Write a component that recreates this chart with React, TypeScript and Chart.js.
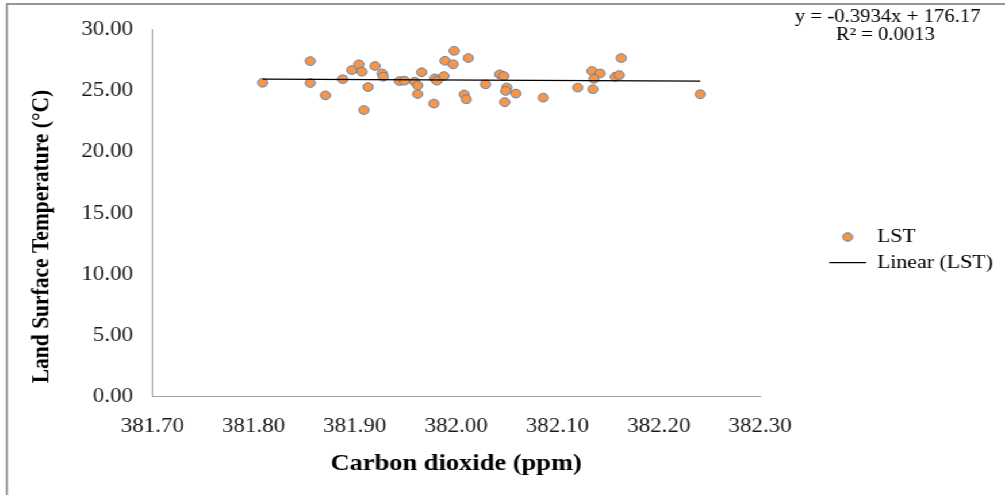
import React, { useEffect, useRef } from 'react';
import { Chart, registerables } from 'chart.js';

Chart.register(...registerables);

// ---- data ----
const co2Values = [
  381.809, 381.856, 381.856, 381.871, 381.888, 381.897, 381.904, 381.907, 381.913, 381.909,
  381.920, 381.927, 381.928, 381.944, 381.949, 381.959, 381.962, 381.962, 381.966, 381.978,
  381.979, 381.981, 381.988, 381.989, 381.998, 381.997, 382.012, 382.008, 382.010, 382.029,
  382.043, 382.047, 382.050, 382.049, 382.048, 382.059, 382.086, 382.120, 382.134, 382.142,
  382.136, 382.135, 382.157, 382.161, 382.163, 382.241,
];
const lstValues = [
  25.67, 27.44, 25.65, 24.64, 25.96, 26.71, 27.18, 26.57, 25.32, 23.44,
  27.04, 26.43, 26.16, 25.81, 25.84, 25.76, 25.45, 24.75, 26.53, 23.97,
  26.03, 25.84, 26.22, 27.47, 28.28, 27.18, 27.69, 24.71, 24.32, 25.54,
  26.36, 26.22, 25.28, 25.00, 24.08, 24.79, 24.45, 25.27, 26.63, 26.43,
  25.99, 25.14, 26.16, 26.30, 27.69, 24.73,
];
const xTickValues = [381.7, 381.8, 381.9, 382.0, 382.1, 382.2, 382.3];
const yTickValues = [0, 5, 10, 15, 20, 25, 30];
const trendSlope = -0.3934;
const trendIntercept = 176.17;
const rSquared = 0.0013;
const seriesName = 'LST';
const trendName = 'Linear (LST)';
const xTitle = 'Carbon dioxide (ppm)';
const yTitle = 'Land Surface Temperature (°C)';

// ---- layout / style ----
const STRETCH = 1.15;
const CANVAS_W = Math.round(1005 / STRETCH);
const CANVAS_H = 495;
const AREA = { left: 132.4, top: 29.8, right: 661, bottom: 396.7 };
const SERIF = "'Liberation Serif', 'Times New Roman', Times, serif";
const ORANGE = '#F79646';
const BLUE = 'rgba(74,126,187,0.85)';
const LEGEND_LEFT = 714.5;
const LEGEND_TOP = 220.8;

const decorPlugin = {
  id: 'decor',
  beforeDraw(chart: any) {
    const { ctx, width, height } = chart;
    ctx.save();
    ctx.fillStyle = '#ffffff';
    ctx.fillRect(0, 0, width, height);
    ctx.strokeStyle = '#8c8c8c';
    ctx.lineWidth = 1.8;
    ctx.strokeRect(6, 4, width + 20, height + 20);
    ctx.restore();
  },
  afterLayout(chart: any) {
    const lg = chart.legend;
    if (!lg) return;
    const w = lg.right - lg.left;
    const h = lg.bottom - lg.top;
    lg.left = LEGEND_LEFT;
    lg.right = LEGEND_LEFT + w;
    lg.top = LEGEND_TOP;
    lg.bottom = LEGEND_TOP + h;
  },
  afterDraw(chart: any) {
    const ctx = chart.ctx;
    ctx.save();
    ctx.fillStyle = '#000';
    ctx.textAlign = 'center';
    ctx.textBaseline = 'middle';
    ctx.font = `18px ${SERIF}`;
    ctx.fillText(`y = ${trendSlope.toFixed(4)}x + ${trendIntercept.toFixed(2)}`, 772, 17);
    ctx.fillText(`R² = ${rSquared.toFixed(4)}`, 770, 35.5);
    ctx.translate(36.5, 236.5);
    ctx.rotate(-Math.PI / 2);
    ctx.font = `bold 21.5px ${SERIF}`;
    ctx.fillText(yTitle, 0, 0);
    ctx.restore();
  },
};

export default function App() {
  const ref = useRef<HTMLCanvasElement>(null);

  useEffect(() => {
    const canvas = ref.current;
    if (!canvas) return;

    const marker = document.createElement('canvas');
    marker.width = 12;
    marker.height = 12;
    const mctx = marker.getContext('2d')!;
    mctx.beginPath();
    mctx.arc(6, 6, 4.3, 0, Math.PI * 2);
    mctx.fillStyle = ORANGE;
    mctx.fill();
    mctx.lineWidth = 1;
    mctx.strokeStyle = BLUE;
    mctx.stroke();

    const xMin = Math.min(...co2Values);
    const xMax = Math.max(...co2Values);
    const trendData = [xMin, xMax].map((x) => ({ x, y: trendSlope * x + trendIntercept }));
    const points = co2Values.map((x, i) => ({ x, y: lstValues[i] }));

    const tickColor = '#1a1a1a';
    const options: any = {
      responsive: false,
      animation: false,
      devicePixelRatio: 1,
      layout: { padding: { left: 0, top: AREA.top, right: 40, bottom: 0 } },
      plugins: {
        tooltip: { enabled: false },
        legend: {
          display: true,
          position: 'right',
          align: 'start',
          labels: {
            usePointStyle: true,
            pointStyleWidth: 32,
            padding: 6.7,
            color: '#000',
            font: { family: SERIF, size: 19 },
            sort: (a: any, b: any) => a.datasetIndex - b.datasetIndex,
            generateLabels: (chart: any) => {
              const items = (Chart.defaults as any).plugins.legend.labels.generateLabels(chart);
              return items.map((it: any) =>
                it.datasetIndex === 0
                  ? { ...it, pointStyle: marker }
                  : { ...it, pointStyle: 'line', strokeStyle: '#000', lineWidth: 1.3 }
              );
            },
          },
        },
      },
      scales: {
        x: {
          type: 'linear',
          min: 381.7,
          max: 382.3,
          grid: { display: false, drawTicks: false },
          border: { display: true, color: '#a0a0a0', width: 1 },
          afterBuildTicks: (s: any) => {
            s.ticks = xTickValues.map((value) => ({ value }));
          },
          afterFit: (s: any) => {
            s.height = CANVAS_H - AREA.bottom;
          },
          ticks: {
            autoSkip: false,
            maxRotation: 0,
            padding: 18,
            color: tickColor,
            font: { family: SERIF, size: 20 },
            callback: (v: any) => Number(v).toFixed(2),
          },
          title: {
            display: true,
            text: xTitle,
            color: '#000',
            font: { family: SERIF, size: 23, weight: 'bold' },
            padding: { top: 0, bottom: 17 },
          },
        },
        y: {
          type: 'linear',
          min: 0,
          max: 30,
          grid: { display: false, drawTicks: false },
          border: { display: true, color: '#a0a0a0', width: 1 },
          afterBuildTicks: (s: any) => {
            s.ticks = yTickValues.map((value) => ({ value }));
          },
          afterFit: (s: any) => {
            s.width = AREA.left;
          },
          ticks: {
            padding: 16.7,
            color: tickColor,
            font: { family: SERIF, size: 20 },
            callback: (v: any) => Number(v).toFixed(2),
          },
          title: { display: false, text: yTitle },
        },
      },
    };

    const chart = new Chart(canvas, {
      type: 'scatter',
      data: {
        datasets: [
          {
            label: seriesName,
            data: points,
            order: 1,
            pointStyle: 'circle',
            pointRadius: 4.4,
            pointBackgroundColor: ORANGE,
            pointBorderColor: BLUE,
            pointBorderWidth: 1,
            backgroundColor: ORANGE,
            borderColor: BLUE,
          },
          {
            label: trendName,
            data: trendData,
            order: 0,
            showLine: true,
            pointRadius: 0,
            pointStyle: 'line',
            borderColor: '#000',
            borderWidth: 1.3,
            backgroundColor: '#000',
          },
        ],
      },
      options,
      plugins: [decorPlugin],
    });

    const diff = chart.chartArea.right - AREA.right;
    if (Math.abs(diff) > 0.05) {
      (chart.config as any).options.layout.padding.right += diff;
      chart.update();
    }

    return () => chart.destroy();
  }, []);

  return (
    <div
      style={{
        position: 'absolute',
        left: 0,
        top: 0,
        width: CANVAS_W,
        height: CANVAS_H,
        transform: `scaleX(${1005 / CANVAS_W})`,
        transformOrigin: '0 0',
        background: '#fff',
      }}
    >
      <canvas ref={ref} width={CANVAS_W} height={CANVAS_H} style={{ display: 'block' }} />
    </div>
  );
}
